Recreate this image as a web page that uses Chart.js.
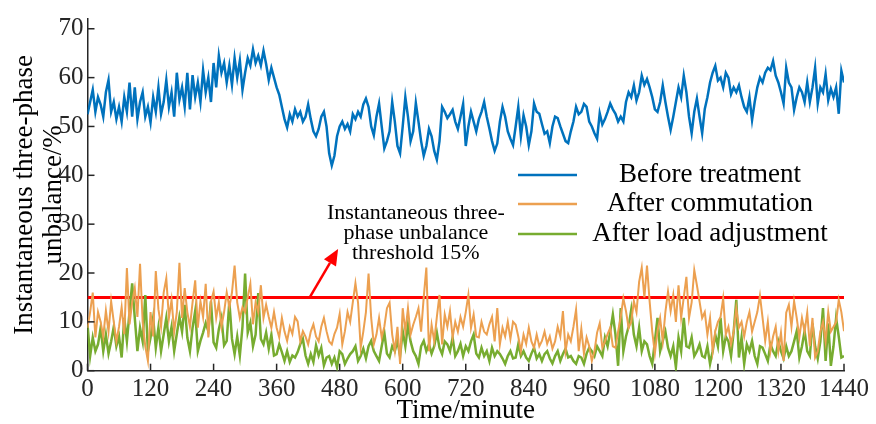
<!DOCTYPE html>
<html>
<head>
<meta charset="utf-8">
<script src="https://cdn.jsdelivr.net/npm/chart.js@4.4.0/dist/chart.umd.min.js"></script>
<style>
  html, body { margin: 0; padding: 0; background: #fff; }
</style>
</head>
<body>
<canvas id="chart" width="876" height="424"></canvas>
<script>
// sampling step of the read-off series (minutes)
const stepMinutes = 5;
const xTicks = [0, 120, 240, 360, 480, 600, 720, 840, 960, 1080, 1200, 1320, 1440];
const yTicks = [0, 10, 20, 30, 40, 50, 60, 70];
const thresholdValue = 15;
const seriesNames = ['Before treatment', 'After commutation', 'After load adjustment'];
const annotationLines = ['Instantaneous three-', 'phase unbalance', 'threshold 15%'];

// values, one every 5 minutes from 0 to 1440
const beforeTreatment = [
  52.5, 55, 57.5, 53, 56, 54.5, 52, 57, 59.5, 53, 55, 51.5,
  54, 51, 56, 53, 59, 52, 58, 51.5, 55, 57, 52, 54,
  50.8, 56, 53, 58, 52.5, 55, 59.5, 54, 57, 52, 61, 55.5,
  58, 54, 61, 53.5, 60.5, 56, 59, 55, 61.5, 57, 60, 55,
  63, 58, 64.5, 61, 63, 59, 62.5, 58.5, 64, 60, 63.5, 57.5,
  61, 64, 62.5, 65.8, 63, 64.5, 62.5, 65.5, 62.8, 59.5, 62, 60,
  58, 56.5, 54, 51.5, 49.8, 52.5, 51, 53.5, 52, 53, 51, 52,
  54.5, 51.5, 49, 48, 49.5, 52, 53, 50, 44.5, 42, 44, 48,
  50, 51, 49.5, 50.5, 49, 52.5, 51.5, 53, 52, 54.5, 55.7, 54,
  50, 48.2, 52, 54.7, 50, 45.5, 47, 49, 55, 51, 46, 44.5,
  50, 56, 52, 47, 49, 54.8, 51, 47, 44, 46, 49.5, 48,
  45, 43.2, 47, 54, 53, 51.7, 52.5, 53.4, 51, 49.5, 52, 54.6,
  46, 50, 53, 51, 49, 51.5, 53, 55, 52, 49.6, 47, 45,
  46.5, 51, 54, 52, 49, 47.5, 46.2, 50, 54, 48, 52.3, 50,
  46.2, 49, 54.7, 53, 52.6, 50.5, 48.5, 49, 46.6, 50, 52, 51.7,
  50, 48.5, 47, 46.6, 49, 51, 54, 52.5, 53, 54.6, 54, 51,
  50, 48.6, 47.5, 52.7, 50.4, 51.5, 53, 54.7, 53.5, 52.6, 51, 52,
  51, 55, 57, 56, 58.4, 55.3, 57, 60.4, 58.5, 59.7, 58, 56,
  53.5, 53, 55, 58.4, 55, 52, 49.3, 52, 55, 58, 56, 60.4,
  57, 52, 48.6, 53, 55.7, 52, 48.6, 53.6, 56, 59, 61, 62.4,
  59.4, 60, 58, 61, 60, 56.6, 58, 57, 58.4, 56, 54, 53,
  56, 51.3, 55, 58, 60, 59, 61, 62, 61.5, 63.4, 60.4, 59,
  57, 54.7, 62, 59, 58, 53.4, 56, 58, 57, 55, 59, 55,
  58, 62, 54.7, 58, 57, 60.7, 55.4, 57.7, 56, 58, 52.6, 61.4,
  59
];

const afterCommutation = [
  8.8, 12, 16, 6.8, 12, 10, 7, 12.3, 8, 14.2, 10, 6,
  9, 13, 7.5, 21, 9.5, 14, 16.9, 11, 21.9, 10, 5, 2,
  12, 7, 20.4, 12.6, 9, 16, 18.9, 10.8, 14.5, 8, 12, 22.1,
  10.8, 16.9, 12, 9, 14, 18.5, 8.8, 14.2, 11, 17.8, 6.8, 14.2,
  16.2, 10.8, 14, 9, 12, 16, 13, 16, 21.5, 14, 10.8, 13,
  12, 15, 17.8, 9.5, 14, 12, 17.5, 10.8, 13.5, 11, 8.8, 12,
  8.8, 6.8, 10.8, 8, 6.1, 9, 7.5, 11, 10.1, 6, 8.1, 7,
  5.4, 8, 9.5, 7, 6, 9, 10.8, 8.1, 6, 5.4, 7.5, 8.8,
  11.6, 5.4, 8.1, 12, 10, 14, 17.9, 13.9, 4.7, 8, 12, 19.9,
  10.8, 5.4, 7.4, 10.8, 6.8, 9, 12.8, 13.9, 7.4, 4, 9, 1.4,
  12.8, 8, 12.8, 7.4, 9.4, 11, 12.8, 8, 15, 21.1, 4, 9.4,
  6, 11, 15.5, 5.4, 11.5, 9, 12.2, 6.8, 10, 8, 11, 9,
  12, 15.5, 8.8, 11.5, 7, 6.8, 10, 8, 7.4, 9.5, 11, 6,
  12.8, 5.4, 8.8, 7, 10, 6.5, 10, 9.4, 7, 4, 7.4, 5.5,
  8.8, 6, 4.7, 7.4, 5, 6.1, 8, 5.5, 7, 4.5, 6, 9,
  7, 12.2, 4, 7.4, 6, 9, 12.5, 4, 8.6, 3.5, 6.8, 5,
  2, 4, 7.8, 9.7, 4.7, 6, 7.5, 8.8, 5, 4.7, 8, 11,
  14.8, 12.2, 8.8, 10, 14.2, 12, 18.2, 21.1, 15, 21.5, 14.2, 8,
  3.5, 8.1, 10.8, 6, 12, 16.2, 12.2, 15.5, 10, 17.5, 10.8, 15,
  19.2, 10.8, 14, 20.6, 17.5, 14.2, 10.8, 12, 7.4, 10.8, 4, 8.1,
  10, 11, 14.8, 7.4, 9, 5.4, 8, 12.8, 8.8, 10, 7, 10,
  12, 8, 10, 12, 15.4, 10.8, 6.1, 10, 4, 7, 9, 4,
  7.8, 2, 11.9, 13.5, 9, 14.2, 10.8, 6.8, 10.8, 8, 11.9, 5,
  10.8, 2.7, 4, 8, 10, 6, 12, 8, 9, 10, 14.5, 12,
  8.1
];

const afterLoadAdjustment = [
  9.5, 3, 6.8, 4, 5.4, 8.8, 4, 7.4, 3.5, 6, 9, 5,
  7, 2.7, 10.8, 6, 12, 17.9, 10.8, 4, 8.8, 6, 15.5, 4,
  6.8, 10.8, 4.7, 8.8, 4, 7.4, 10.8, 6, 9, 4, 7.5, 11,
  8, 13.5, 6.8, 4, 8.8, 12.2, 4, 6.1, 7.8, 9.8, 8.1, 14.2,
  5.8, 4.7, 8.5, 10.8, 5.2, 6.1, 14.2, 6.5, 3.4, 7, 3.1, 9,
  19.9, 7.8, 9.8, 5, 7.4, 15.9, 6.5, 5.4, 7.8, 4.5, 7.4, 3.1,
  3.4, 5.4, 3.8, 2, 4, 1.8, 3.1, 2.7, 3.8, 5.4, 6.5, 3.1,
  1.4, 3.4, 1.8, 5.2, 3.1, 4.7, 1.1, 2.7, 3, 1.4, 2.7, 0.7,
  4, 3.4, 1.4, 2.5, 3.4, 4, 5, 2, 3, 4.5, 2.5, 5,
  6.1, 4, 3, 2, 5, 7.8, 3.5, 2.7, 5, 4, 6.1, 3,
  8.1, 5, 9.4, 6, 4, 3, 1.4, 5, 6.1, 4, 5.4, 3.5,
  5, 7.8, 4.7, 3.4, 6, 5.4, 4, 6.8, 3, 4, 5.5, 3,
  5, 4, 6, 7.4, 3.5, 2.7, 4.7, 3, 4, 2, 4.7, 3,
  4, 3.4, 2.5, 1.4, 3, 4, 2.5, 2.7, 5.4, 3, 4, 2.7,
  2, 3.5, 4.7, 2.5, 3.4, 2, 3.4, 4, 2.5, 1.5, 3, 4,
  2, 3.4, 4.5, 2.7, 3, 2, 1.4, 3, 2.7, 1.4, 3.5, 4.7,
  4, 3, 5, 4, 3, 6.8, 5, 8, 11.5, 7.4, 1, 12.8,
  4, 7, 9, 12.5, 7.4, 5, 8.8, 4, 6, 5.4, 3, 1.4,
  6, 10.8, 4, 6.1, 8, 4.7, 3, 5, 0.7, 6.8, 4, 10.8,
  5, 4.7, 6.8, 3, 4, 5.4, 3, 2.7, 5, 1.4, 4, 7.4,
  5, 10.8, 4, 7, 6, 3, 8, 14.5, 2.7, 6.8, 1.4, 5.4,
  4, 6.1, 3, 1.4, 5, 4.7, 3.4, 2, 5.4, 4, 3, 6,
  4, 2.5, 5, 3, 4, 6, 8.1, 2.7, 5, 8.1, 4, 3,
  9.7, 5, 2.5, 6, 12.8, 2, 9.7, 1, 5, 10.8, 7, 2.7,
  3
];

// arrow of the threshold note, in data units: [minute, value]
const arrowFrom = [423, 15];
const arrowTo = [477, 24.9];
const noteCenter = [625, 28.1];

const axisColor = '#262626';
const blue = '#0072BD';
const orange = '#ECA050';
const green = '#77AC30';
const red = '#FF0000';
const serif = '"Liberation Serif", "Times New Roman", serif';

const toPoints = values => values.map((v, i) => ({ x: i * stepMinutes, y: v }));

const overlay = {
  id: 'overlay',
  afterDatasetsDraw(chart) {
    const { ctx, chartArea } = chart;
    const x = chart.scales.x;
    const y = chart.scales.y;
    ctx.save();

    // inward tick marks
    ctx.strokeStyle = axisColor;
    ctx.lineWidth = 1.5;
    xTicks.forEach(v => {
      const px = x.getPixelForValue(v);
      ctx.beginPath();
      ctx.moveTo(px, chartArea.bottom);
      ctx.lineTo(px, chartArea.bottom - 7);
      ctx.stroke();
    });
    yTicks.forEach(v => {
      const py = y.getPixelForValue(v);
      ctx.beginPath();
      ctx.moveTo(chartArea.left, py);
      ctx.lineTo(chartArea.left + 7, py);
      ctx.stroke();
    });

    // red arrow to the note
    const x0 = x.getPixelForValue(arrowFrom[0]), y0 = y.getPixelForValue(arrowFrom[1]);
    const x1 = x.getPixelForValue(arrowTo[0]), y1 = y.getPixelForValue(arrowTo[1]);
    const ang = Math.atan2(y1 - y0, x1 - x0);
    const headLen = 16, headHalf = 7;
    const bx = x1 - headLen * Math.cos(ang), by = y1 - headLen * Math.sin(ang);
    ctx.strokeStyle = red;
    ctx.fillStyle = red;
    ctx.lineWidth = 2.5;
    ctx.beginPath();
    ctx.moveTo(x0, y0);
    ctx.lineTo(bx, by);
    ctx.stroke();
    ctx.beginPath();
    ctx.moveTo(x1, y1);
    ctx.lineTo(bx + headHalf * Math.sin(ang), by - headHalf * Math.cos(ang));
    ctx.lineTo(bx - headHalf * Math.sin(ang), by + headHalf * Math.cos(ang));
    ctx.closePath();
    ctx.fill();

    // note text
    ctx.fillStyle = '#000';
    ctx.font = '22px ' + serif;
    ctx.textAlign = 'center';
    ctx.textBaseline = 'middle';
    const nx = x.getPixelForValue(noteCenter[0]);
    const ny = y.getPixelForValue(noteCenter[1]);
    annotationLines.forEach((t, i) => ctx.fillText(t, nx, ny + (i - 1) * 20));

    // legend
    const legendColors = [blue, orange, green];
    const legendY = [175, 204, 234];
    ctx.font = '27px ' + serif;
    seriesNames.forEach((name, i) => {
      ctx.strokeStyle = legendColors[i];
      ctx.lineWidth = 2.5;
      ctx.beginPath();
      ctx.moveTo(518, legendY[i]);
      ctx.lineTo(577, legendY[i]);
      ctx.stroke();
      ctx.fillStyle = '#000';
      ctx.fillText(name, 710, legendY[i]);
    });
    ctx.restore();
  }
};

new Chart(document.getElementById('chart').getContext('2d'), {
  type: 'line',
  data: {
    datasets: [
      { label: seriesNames[1], data: toPoints(afterCommutation), borderColor: orange, borderWidth: 2 },
      { label: seriesNames[2], data: toPoints(afterLoadAdjustment), borderColor: green, borderWidth: 2.5 },
      { label: seriesNames[0], data: toPoints(beforeTreatment), borderColor: blue, borderWidth: 2.5 },
      { label: 'threshold', data: [{ x: xTicks[0], y: thresholdValue }, { x: xTicks[xTicks.length - 1], y: thresholdValue }], borderColor: red, borderWidth: 3 }
    ]
  },
  options: {
    responsive: false,
    animation: false,
    devicePixelRatio: 1,
    layout: { padding: { left: 0, right: 32, top: 13, bottom: 0 } },
    elements: { point: { radius: 0 }, line: { tension: 0, fill: false } },
    plugins: { legend: { display: false }, tooltip: { enabled: false } },
    scales: {
      x: {
        type: 'linear',
        min: 0,
        max: 1440,
        afterBuildTicks: s => { s.ticks = xTicks.map(v => ({ value: v })); },
        afterFit: s => { s.height = 53.3; },
        grid: { display: false, drawTicks: false },
        border: { display: true, color: axisColor, width: 1.5 },
        ticks: { color: axisColor, font: { family: serif, size: 25, lineHeight: 1.2 }, padding: 4, maxRotation: 0, autoSkip: false, callback: v => String(v) },
        title: { display: true, text: 'Time/minute', color: '#000', font: { family: serif, size: 27, lineHeight: 1.0 }, padding: { top: 0, bottom: 0 } }
      },
      y: {
        min: 0,
        max: 72,
        afterBuildTicks: s => { s.ticks = yTicks.map(v => ({ value: v })); },
        afterFit: s => { s.width = 87.5; },
        grid: { display: false, drawTicks: false },
        border: { display: true, color: axisColor, width: 1.5 },
        ticks: { color: axisColor, font: { family: serif, size: 25 }, padding: 4, callback: v => String(v) },
        title: { display: true, text: ['Instantaneous three-phase', 'unbalance/%'], color: '#000', font: { family: serif, size: 27, lineHeight: 1.05 }, padding: { top: 11, bottom: 0 } }
      }
    }
  },
  plugins: [overlay]
});
</script>
</body>
</html>
